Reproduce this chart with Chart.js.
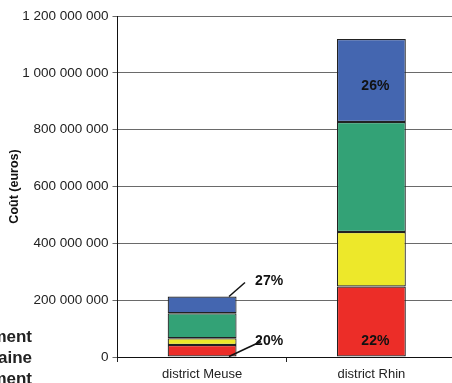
<!DOCTYPE html>
<html><head><meta charset="utf-8">
<script src="https://cdn.jsdelivr.net/npm/chart.js@4"></script>
<style>html,body{margin:0;padding:0;background:#fff;overflow:hidden;}canvas{display:block;}</style>
</head><body>
<canvas id="c" width="460" height="383"></canvas>
<script>
const categories = ['district Meuse', 'district Rhin'];
const rouge = [42000000, 248000000];
const jaune = [24000000, 192000000];
const vert = [88000000, 387000000];
const bleu = [59000000, 292000000];
const topPct = ['27%', '26%'];
const bottomPct = ['20%', '22%'];
const yTicks = [0, 200000000, 400000000, 600000000, 800000000, 1000000000, 1200000000];
const legendTails = ['ment', 'aine', 'ment'];
const yTitle = 'Coût (euros)';

const FONT = '"Liberation Sans", Arial, sans-serif';
function fmt(v){ return String(Math.round(v)).replace(/\B(?=(\d{3})+(?!\d))/g, ' '); }

const extras = {
  id: 'extras',
  afterDatasetsDraw(chart){
    const ctx = chart.ctx;
    const topMeta = chart.getDatasetMeta(3);
    const botMeta = chart.getDatasetMeta(0);
    ctx.save();
    ctx.fillStyle = '#111';
    ctx.strokeStyle = '#111';
    ctx.lineWidth = 1.5;
    ctx.font = 'bold 14px ' + FONT;
    ctx.textAlign = 'center';
    ctx.textBaseline = 'middle';
    const tb = topMeta.data[0], bb = botMeta.data[0];
    const half = tb.width / 2;
    ctx.beginPath();
    ctx.moveTo(tb.x + half*0.78, tb.y);
    ctx.lineTo(tb.x + half*0.78 + 16, tb.y - 14);
    ctx.stroke();
    ctx.fillText(topPct[0], tb.x + 67, tb.y - 15);
    ctx.beginPath();
    ctx.moveTo(bb.x + half*0.78, bb.base);
    ctx.lineTo(bb.x + half*0.78 + 32, bb.base - 15);
    ctx.stroke();
    ctx.fillText(bottomPct[0], bb.x + 67, bb.base - 15);
    const tr = topMeta.data[1], br = botMeta.data[1];
    ctx.fillText(topPct[1], tr.x + 4, tr.y + (tr.base - tr.y) * 0.57);
    ctx.fillText(bottomPct[1], br.x + 4, br.base - 15);
    ctx.font = 'bold 17px ' + FONT;
    ctx.textAlign = 'right';
    ctx.fillStyle = '#222';
    legendTails.forEach((t, i) => ctx.fillText(t, 32, 337 + i * 21));
    ctx.restore();
  }
};

new Chart(document.getElementById('c'), {
  type: 'bar',
  data: {
    labels: categories,
    datasets: [
      {label: 'rouge', data: rouge, backgroundColor: '#EC2D28'},
      {label: 'jaune', data: jaune, backgroundColor: '#EDE82A'},
      {label: 'vert', data: vert, backgroundColor: '#33A276'},
      {label: 'bleu', data: bleu, backgroundColor: '#4466B0'}
    ].map(d => Object.assign(d, {borderColor: '#222', borderWidth: 1.2, borderSkipped: false, barPercentage: 1, categoryPercentage: 0.407}))
  },
  options: {
    responsive: false,
    animation: false,
    layout: {padding: {left: 0, right: 4, top: 16, bottom: 0}},
    plugins: {legend: {display: false}, tooltip: {enabled: false}},
    scales: {
      x: {
        stacked: true,
        grid: {display: true, drawOnChartArea: false, drawTicks: true, tickLength: 5, color: '#222'},
        border: {color: '#111', width: 1},
        ticks: {color: '#222', font: {family: FONT, size: 13}, padding: 5},
        afterFit(s){ s.height = 26; }
      },
      y: {
        stacked: true,
        min: 0, max: 1200000000,
        afterBuildTicks(s){ s.ticks = yTicks.map(v => ({value: v})); },
        grid: {color: '#6a6a6a', lineWidth: 1, tickLength: 5},
        border: {color: '#111', width: 1},
        ticks: {color: '#222', font: {family: FONT, size: 13.5}, padding: 4, callback: v => fmt(v)},
        title: {display: true, text: yTitle, color: '#111', font: {family: FONT, size: 12.5, weight: 'bold'}, padding: {top: 7, bottom: 0}},
        afterFit(s){ s.width = 117.5; }
      }
    }
  },
  plugins: [extras]
});
</script>
</body></html>
